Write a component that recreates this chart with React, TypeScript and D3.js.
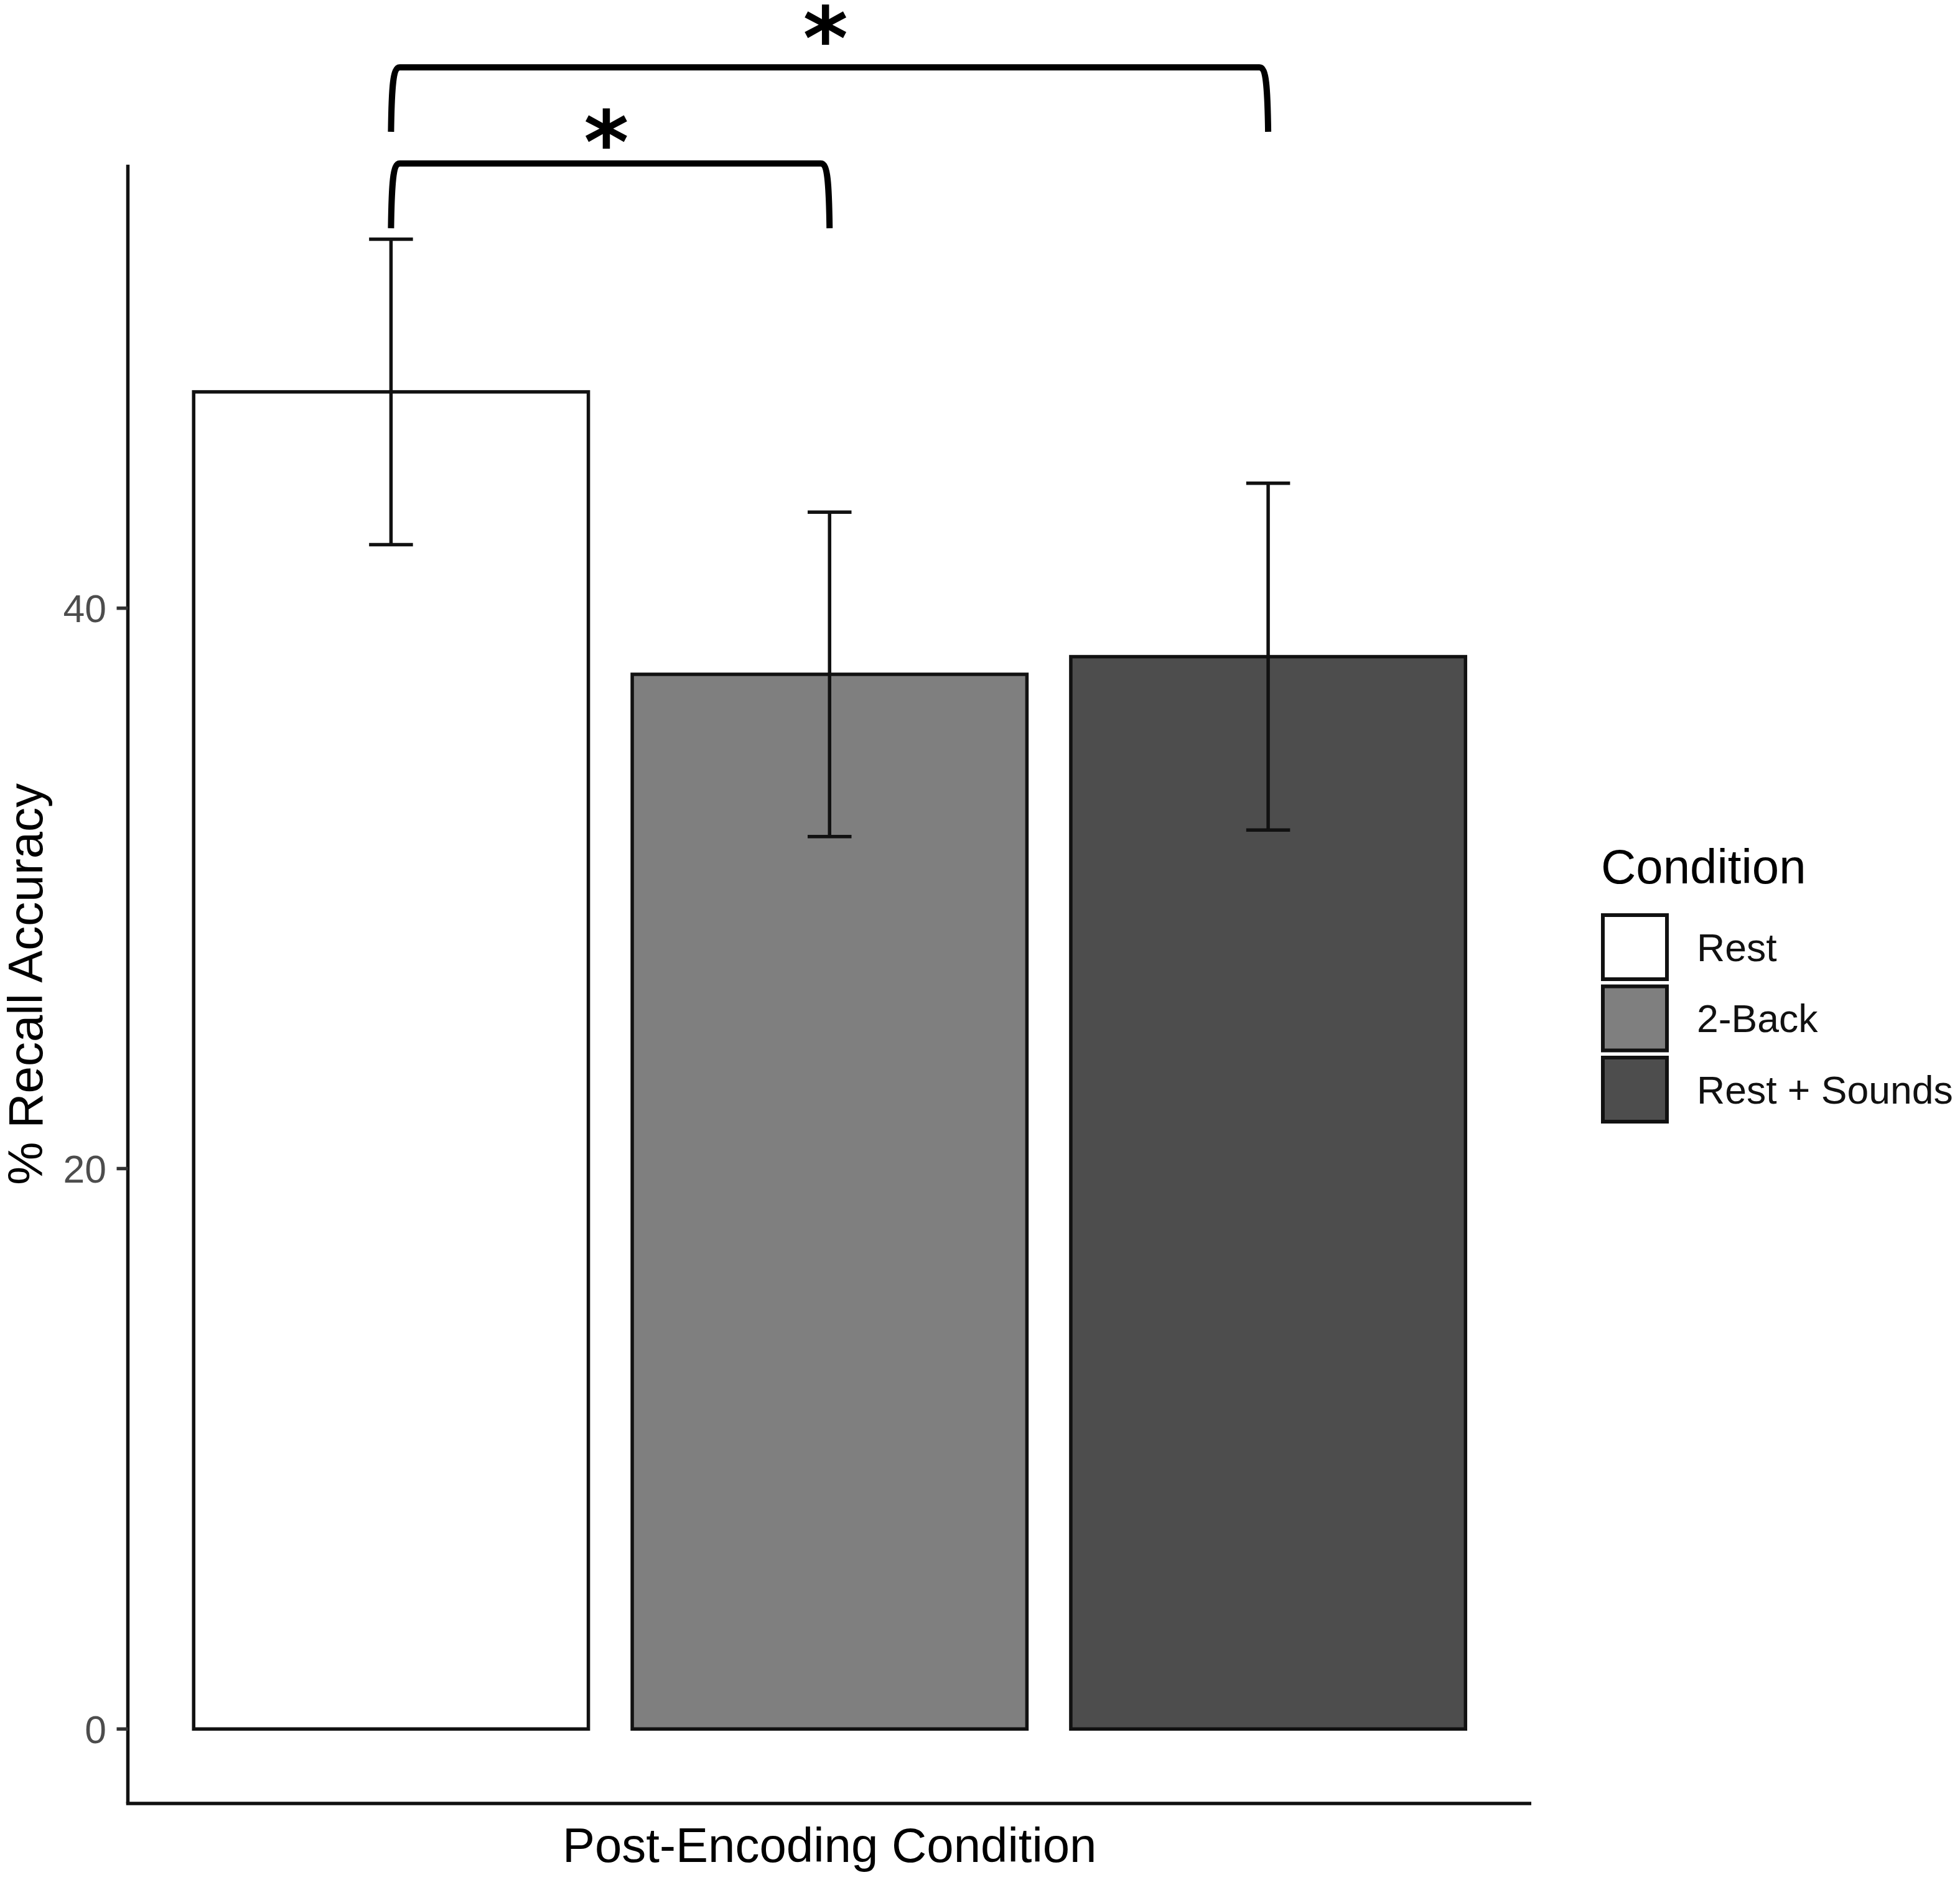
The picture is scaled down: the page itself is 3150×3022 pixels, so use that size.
import React, { useMemo } from "react";
import * as d3 from "d3";

// ---------- data ----------
const categories = ["Rest", "2-Back", "Rest + Sounds"];
const means = [47.72, 37.64, 38.27];
const errors = [5.45, 5.79, 6.19];
const fills = ["#FFFFFF", "#7F7F7F", "#4D4D4D"];
const yTicks = [0, 20, 40];
const yTickLabels = ["0", "20", "40"];
const legendTitle = "Condition";
const xTitle = "Post-Encoding Condition";
const yTitle = "% Recall Accuracy";
// significance comparisons (indices into categories), heights in data units
const compFrom = [0, 0];
const compTo = [2, 1];
const compTop = [59.3, 55.87];
const compLeg = [57.0, 53.56];
const compStar = [60.82, 57.11];
const compLabel = ["*", "*"];

// ---------- layout ----------
const W = 3150;
const H = 3022;
const panel = { left: 205.5, right: 2461, top: 264.7, bottom: 2899 };
const FONT = "'Liberation Sans', Arial, Helvetica, sans-serif";
const STAR_FONT = "'DejaVu Sans', sans-serif";

function inkMetrics(ch: string, family: string, weight: string, targetH: number) {
  const c = document.createElement("canvas");
  const ctx = c.getContext("2d")!;
  ctx.font = `${weight} 100px ${family}`;
  const m = ctx.measureText(ch);
  const a = m.actualBoundingBoxAscent;
  const d = m.actualBoundingBoxDescent;
  const l = m.actualBoundingBoxLeft;
  const r = m.actualBoundingBoxRight;
  const h = a + d || 50;
  const k = targetH / h;
  return {
    fontSize: 100 * k,
    dx: -((r - l) / 2) * k,
    dy: ((a - d) / 2) * k,
  };
}

export default function App() {
  const x = d3
    .scaleBand<string>()
    .domain(categories)
    .range([panel.left, panel.right])
    .paddingInner(0.1)
    .paddingOuter(0.15);
  const hi = d3.max(means.map((m, i) => m + errors[i])) as number;
  const pad = hi * 0.05;
  const y = d3.scaleLinear().domain([-pad, hi + pad]).range([panel.bottom, panel.top]);
  const step = x.step();
  const bw = x.bandwidth();
  const cx = (i: number) => (x(categories[i]) as number) + bw / 2;
  const capHalf = (0.1 * step) / 2;

  const star = useMemo(() => inkMetrics("*", STAR_FONT, "bold", 65), []);

  const bracketPath = (i: number) => {
    const x0 = cx(compFrom[i]);
    const x1 = cx(compTo[i]);
    const yt = y(compTop[i]);
    const yb = y(compLeg[i]);
    const p = d3.path();
    p.moveTo(x0, yb);
    p.bezierCurveTo(x0 + 1, yt + (yb - yt) * 0.3, x0 + 3, yt, x0 + 14, yt);
    p.lineTo(x1 - 14, yt);
    p.bezierCurveTo(x1 - 3, yt, x1 - 1, yt + (yb - yt) * 0.3, x1, yb);
    return p.toString();
  };

  const keyPitch = 114.5;
  const keySize = 103;
  const legX = 2576;
  const legY0 = 1471;

  return (
    <svg
      width={W}
      height={H}
      viewBox={`0 0 ${W} ${H}`}
      style={{ position: "absolute", left: 0, top: 0, background: "#fff" }}
    >
      <rect x={0} y={0} width={W} height={H} fill="#fff" />
      {/* bars */}
      {categories.map((c, i) => (
        <rect
          key={c}
          x={x(c)}
          y={y(means[i])}
          width={bw}
          height={y(0) - y(means[i])}
          fill={fills[i]}
          stroke="#111"
          strokeWidth={5.5}
        />
      ))}
      {/* error bars */}
      {categories.map((c, i) => {
        const xc = cx(i);
        const yt = y(means[i] + errors[i]);
        const yb = y(means[i] - errors[i]);
        return (
          <g key={c} stroke="#111" strokeWidth={5.5} fill="none">
            <line x1={xc} x2={xc} y1={yt} y2={yb} />
            <line x1={xc - capHalf} x2={xc + capHalf} y1={yt} y2={yt} />
            <line x1={xc - capHalf} x2={xc + capHalf} y1={yb} y2={yb} />
          </g>
        );
      })}
      {/* axes */}
      <line x1={panel.left} x2={panel.left} y1={panel.top} y2={panel.bottom} stroke="#111" strokeWidth={5.5} />
      <line x1={panel.left - 2.75} x2={panel.right} y1={panel.bottom} y2={panel.bottom} stroke="#111" strokeWidth={5.5} />
      {yTicks.map((t, i) => (
        <g key={t}>
          <line x1={panel.left - 18} x2={panel.left} y1={y(t)} y2={y(t)} stroke="#333" strokeWidth={5.5} />
          <text
            x={171}
            y={y(t) + 22.4}
            textAnchor="end"
            fontFamily={FONT}
            fontSize={62.5}
            fill="#4D4D4D"
          >
            {yTickLabels[i]}
          </text>
        </g>
      ))}
      {/* axis titles */}
      <text
        x={(panel.left + panel.right) / 2}
        y={2993}
        textAnchor="middle"
        fontFamily={FONT}
        fontSize={78}
        fill="#000"
      >
        {xTitle}
      </text>
      <text
        transform={`translate(68, ${(panel.top + panel.bottom) / 2}) rotate(-90)`}
        textAnchor="middle"
        fontFamily={FONT}
        fontSize={78}
        fill="#000"
      >
        {yTitle}
      </text>
      {/* significance brackets */}
      {compFrom.map((_, i) => (
        <g key={i}>
          <path d={bracketPath(i)} fill="none" stroke="#000" strokeWidth={10} strokeLinejoin="round" />
          <text
            x={(cx(compFrom[i]) + cx(compTo[i])) / 2 - 6 + star.dx}
            y={y(compStar[i]) + star.dy}
            fontFamily={STAR_FONT}
            fontWeight="bold"
            fontSize={star.fontSize}
            fill="#000"
          >
            {compLabel[i]}
          </text>
        </g>
      ))}
      {/* legend */}
      <text x={2573} y={1420} fontFamily={FONT} fontSize={78} fill="#000">
        {legendTitle}
      </text>
      {categories.map((c, i) => (
        <g key={c}>
          <rect
            x={legX}
            y={legY0 + keyPitch * i}
            width={keySize}
            height={keySize}
            fill={fills[i]}
            stroke="#111"
            strokeWidth={6}
          />
          <text
            x={2727}
            y={legY0 + keyPitch * i + keySize / 2 + 22.4}
            fontFamily={FONT}
            fontSize={62.5}
            fill="#111"
          >
            {c}
          </text>
        </g>
      ))}
    </svg>
  );
}
